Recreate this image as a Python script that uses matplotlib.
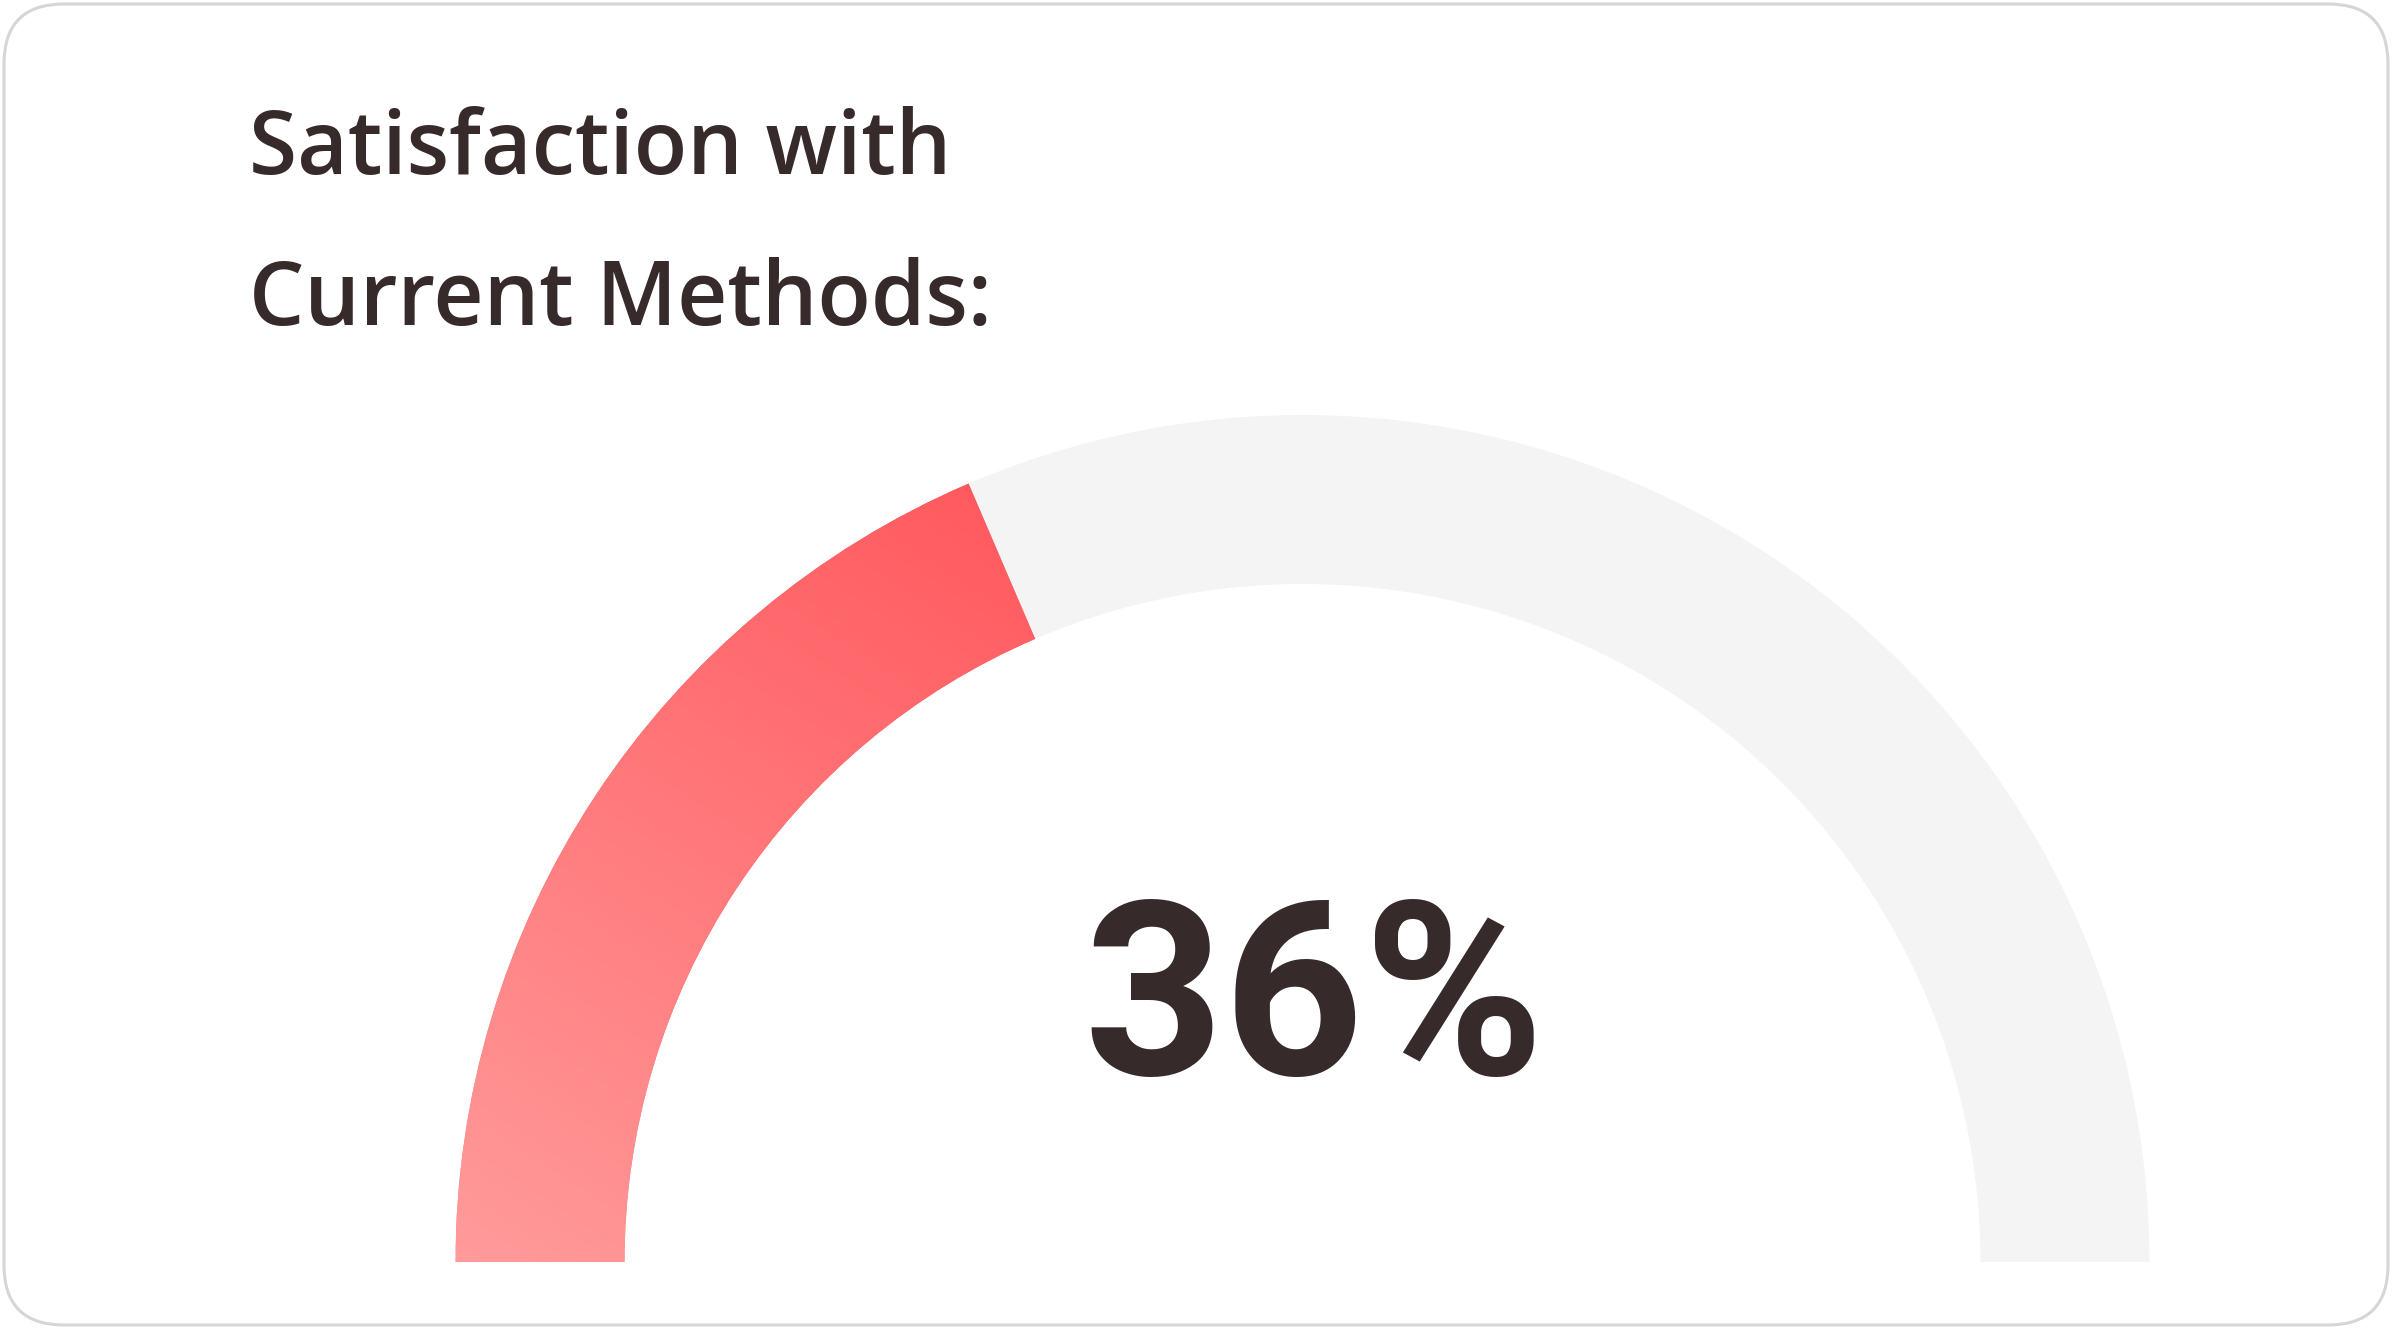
#!/usr/bin/env python3
"""Semicircular gauge card: satisfaction with current methods."""

import matplotlib
matplotlib.use("Agg")
import matplotlib.pyplot as plt
import numpy as np
from matplotlib.colors import to_rgb
from matplotlib.patches import FancyBboxPatch, Wedge

# Data
title_lines = ["Satisfaction with", "Current Methods:"]
label_value = 36      # number printed in the middle
gauge_fill = 37.1
gauge_max = 100

# Style
TEXT_COLOR = "#372a2a"
TRACK_COLOR = "#f4f4f4"
GRAD_START = "#ff9b9b"
GRAD_END = "#ff5a5f"
BORDER_COLOR = "#d6d6d6"

W, H = 2392, 1329
CX, CY = 1302.5, 67.0
R_OUT, R_IN = 847.0, 678.0


def main():
    fig = plt.figure(figsize=(W / 100, H / 100), dpi=100)
    ax = fig.add_axes([0, 0, 1, 1])
    ax.set_xlim(0, W)
    ax.set_ylim(0, H)
    ax.set_aspect("equal")
    ax.axis("off")

    # card border
    card = FancyBboxPatch((4, 4), W - 8, H - 8,
                          boxstyle="round,pad=0,rounding_size=60",
                          facecolor="white", edgecolor=BORDER_COLOR, linewidth=2.2)
    ax.add_patch(card)

    split = 180 - 180 * gauge_fill / gauge_max

    # grey track
    ax.add_patch(Wedge((CX, CY), R_OUT, 0, split, width=R_OUT - R_IN,
                       facecolor=TRACK_COLOR, edgecolor="none"))

    # filled part, diagonal gradient
    c0, c1 = np.array(to_rgb(GRAD_START)), np.array(to_rgb(GRAD_END))
    base = Wedge((CX, CY), R_OUT, split, 180, width=R_OUT - R_IN,
                 facecolor=(c0 + c1) / 2, edgecolor="none")
    ax.add_patch(base)

    x0, y0 = CX - R_OUT, CY
    a = np.radians(split)
    x1, y1 = CX + R_OUT * np.cos(a), CY + R_OUT * np.sin(a)
    dx, dy = x1 - x0, y1 - y0
    xs = np.linspace(CX - R_OUT, CX + 50, 700)
    ys = np.linspace(CY, CY + R_OUT, 500)
    gx, gy = np.meshgrid(xs, ys)
    t = np.clip(((gx - x0) * dx + (gy - y0) * dy) / (dx * dx + dy * dy), 0, 1)
    rgb = c0[None, None, :] * (1 - t[..., None]) + c1[None, None, :] * t[..., None]
    im = ax.imshow(rgb, origin="lower", interpolation="bilinear",
                   extent=(xs[0], xs[-1], ys[0], ys[-1]), zorder=3)
    clip = Wedge((CX, CY), R_OUT, split, 180, width=R_OUT - R_IN,
                 transform=ax.transData)
    im.set_clip_path(clip)
    ax.set_xlim(0, W)
    ax.set_ylim(0, H)

    # title
    for i, line in enumerate(title_lines):
        ax.text(249, H - 174 - 151 * i, line, fontsize=63, family="Open Sans",
                fontweight="semibold", color=TEXT_COLOR, ha="left", va="baseline")

    # value
    ax.text(1314, H - 1075, f"{label_value}%", fontsize=176, family="Roboto",
            fontweight="bold", color=TEXT_COLOR, ha="center", va="baseline",
            zorder=5)

    fig.savefig("out.png", dpi=100)
    plt.close(fig)


if __name__ == "__main__":
    main()
